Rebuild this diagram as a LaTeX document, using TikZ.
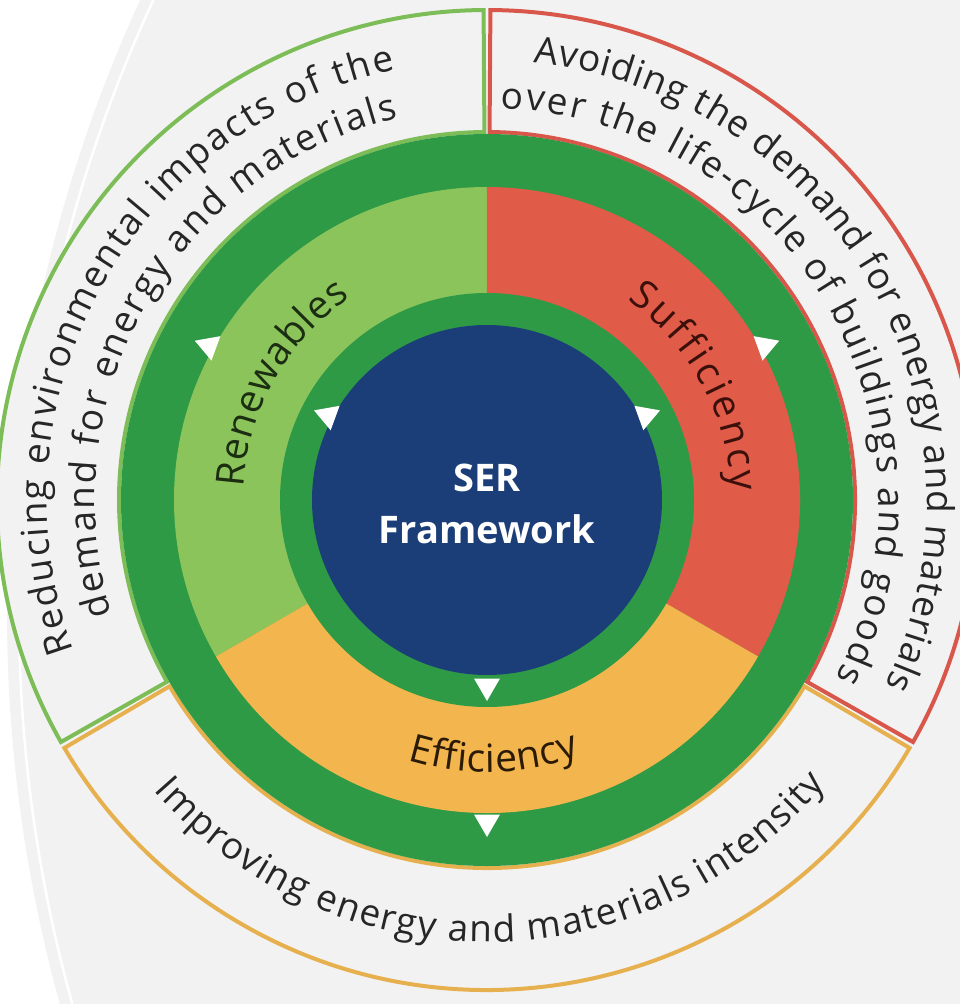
\documentclass[tikz,border=0pt]{standalone}
\usepackage{fontspec}
\setmainfont{Open Sans}
\usepackage{tikz}
\usetikzlibrary{decorations.text,shapes.geometric}

\definecolor{ringgreen}{HTML}{2F9A45}
\definecolor{renewgreen}{HTML}{8CC45C}
\definecolor{suffred}{HTML}{E05B48}
\definecolor{efforange}{HTML}{F3B64E}
\definecolor{serblue}{HTML}{1B3E78}
\definecolor{paper}{HTML}{F2F2F2}
\definecolor{edgegreen}{HTML}{7DBD57}
\definecolor{edgered}{HTML}{D8574A}
\definecolor{edgeorange}{HTML}{E6B04F}
\definecolor{inktext}{HTML}{262626}
\definecolor{renewink}{HTML}{1C2E12}
\definecolor{suffink}{HTML}{3B100B}
\definecolor{effink}{HTML}{2B1A06}

\tikzset{
	ser framework/.style={
		x=1pt,y=1pt,
		flow mark/.style={
			regular polygon,
			regular polygon sides=3,
			shape border rotate=180,
			fill=white,
			inner sep=0pt,
			minimum size=30pt
		},
		core label/.style={
			text=white,
			align=center,
			font=\fontsize{38}{52}\selectfont\bfseries
		},
		text segment/.style={
			fill=paper,
			line width=4pt
		}
	},
	ring text/.style 2 args={% text, colour
		decorate,
		decoration={
			text along path,
			text align=fit to path,
			text={|\fontsize{37}{37}\selectfont\color{#2}|#1}
		}
	},
	pillar text/.style 2 args={% text, colour
		decorate,
		decoration={
			text along path,
			text align=fit to path,
			text={|\fontsize{39}{39}\selectfont\color{#2}|#1}
		}
	}
}

\begin{document}
\begin{tikzpicture}[ser framework]
	% page and backdrop
	\useasboundingbox (-487,-504) rectangle (473,500);
	\clip (-487,-504) rectangle (473,500);
	\fill[white] (-487,-504) rectangle (473,500);
	\fill[paper] (989,-112) circle[radius=1469];
	\draw[white,line width=2.5pt] (989,-112) circle[radius=1457];
	% outer text segments
	\path[text segment,draw=edgegreen] (90.4:368) arc[start angle=90.4,end angle=209.6,radius=368]
		-- (209.6:490) arc[start angle=209.6,end angle=90.4,radius=490] -- cycle;
	\path[text segment,draw=edgered] (-29.6:368) arc[start angle=-29.6,end angle=89.6,radius=368]
		-- (89.6:490) arc[start angle=89.6,end angle=-29.6,radius=490] -- cycle;
	\path[text segment,draw=edgeorange] (210.4:368) arc[start angle=210.4,end angle=329.6,radius=368]
		-- (329.6:490) arc[start angle=329.6,end angle=210.4,radius=490] -- cycle;
	% rings
	\fill[ringgreen] (0,0) circle[radius=366];
	\fill[renewgreen] (0,0) -- (90:313) arc[start angle=90,end angle=210,radius=313] -- cycle;
	\fill[suffred] (0,0) -- (-30:313) arc[start angle=-30,end angle=90,radius=313] -- cycle;
	\fill[efforange] (0,0) -- (210:313) arc[start angle=210,end angle=330,radius=313] -- cycle;
	\fill[ringgreen] (0,0) circle[radius=207];
	\fill[serblue] (0,0) circle[radius=175];
	% flow marks
	\node[flow mark,rotate=10] (mark-in-renew) at (152:180) {};
	\node[flow mark,rotate=-10] (mark-in-suff) at (28:180) {};
	\node[flow mark] (mark-in-eff) at (270:186) {};
	\node[flow mark,rotate=10] (mark-out-renew) at (151:318) {};
	\node[flow mark,rotate=-10] (mark-out-suff) at (29:318) {};
	\node[flow mark] (mark-out-eff) at (270:322) {};
	\node[core label] (ser) at (0,-4) {SER\\Framework};
	% pillar names
	\path[pillar text={Renewables}{renewink}] (177:244) arc[start angle=177,end angle=124,radius=244];
	\path[pillar text={Sufficiency}{suffink}] (55:244) arc[start angle=55,end angle=2,radius=244];
	\path[pillar text={Efficiency}{effink}] (253:272) arc[start angle=253,end angle=290,radius=272];
	% segment texts
	\path[ring text={Reducing environmental impacts of the}{inktext}] (200:440) arc[start angle=200,end angle=102,radius=440];
	\path[ring text={demand for energy and materials}{inktext}] (197:392) arc[start angle=197,end angle=103,radius=392];
	\path[ring text={Avoiding the demand for energy and materials}{inktext}] (84:440) arc[start angle=84,end angle=-25,radius=440];
	\path[ring text={over the life-cycle of buildings and goods}{inktext}] (88:392) arc[start angle=88,end angle=-27,radius=392];
	\path[ring text={Improving energy and materials intensity}{inktext}] (221:442) arc[start angle=221,end angle=320,radius=442];
\end{tikzpicture}
\end{document}
